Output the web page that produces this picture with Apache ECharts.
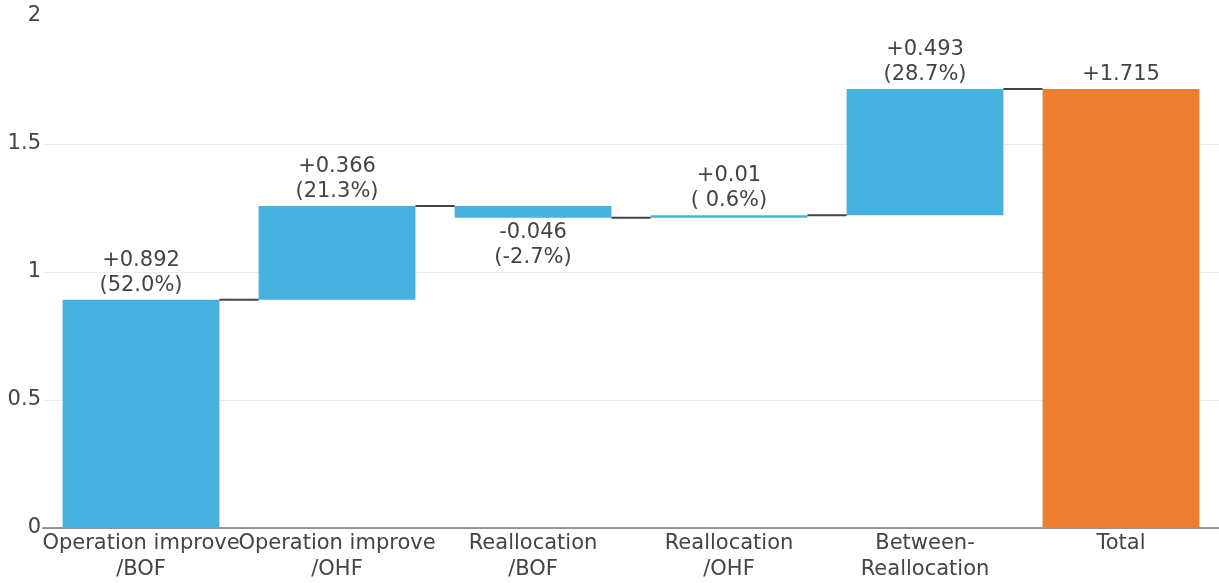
<!DOCTYPE html>
<html>
<head>
<meta charset="utf-8">
<script src="https://cdn.jsdelivr.net/npm/echarts@6/dist/echarts.min.js"></script>
<style>
  html, body { margin: 0; padding: 0; background: #fff; }
  #main { width: 1219px; height: 583px; }
</style>
</head>
<body>
<div id="main"></div>
<script>
// waterfall data
var categories = ['Operation improve\n/BOF', 'Operation improve\n/OHF', 'Reallocation\n/BOF',
                  'Reallocation\n/OHF', 'Between-\nReallocation', 'Total'];
var deltas = [0.892, 0.366, -0.046, 0.01, 0.493];
var shares = [52.0, 21.3, -2.7, 0.6, 28.7];
var total = 1.715;
var yTicks = [0, 0.5, 1, 1.5, 2];

var blue = '#47b2df', orange = '#ed7d31', ink = '#444';

// running sums -> invisible base + visible height
var base = [], height = [], ends = [];
var run = 0;
deltas.forEach(function (d, i) {
  var next = run + d;
  base.push(Math.min(run, next));
  height.push(Math.abs(d));
  ends.push(next);
  run = next;
});
base.push(0);
height.push(total);

function sign(v) { return (v >= 0 ? '+' : '') + v; }

var visible = height.map(function (h, i) {
  var isTotal = i === deltas.length;
  var txt = isTotal ? sign(total) : sign(deltas[i]) + '\n(' + shares[i].toFixed(1).padStart(4, ' ') + '%)';
  return {
    value: h,
    itemStyle: { color: isTotal ? orange : blue },
    label: {
      show: true,
      position: (!isTotal && deltas[i] < 0) ? 'bottom' : 'top',
      formatter: txt
    }
  };
});

var chart = echarts.init(document.getElementById('main'));
chart.setOption({
  animation: false,
  textStyle: { fontFamily: 'DejaVu Sans' },
  grid: { left: 43, width: 1178, top: 16, bottom: 44, containLabel: false },
  xAxis: {
    type: 'category',
    data: categories,
    axisLine: { lineStyle: { color: '#777', width: 1.5 } },
    axisTick: { show: false },
    axisLabel: { interval: 0, color: ink, fontSize: 21, lineHeight: 26, margin: 3 }
  },
  yAxis: {
    type: 'value',
    min: yTicks[0],
    max: yTicks[yTicks.length - 1],
    interval: 0.5,
    axisLine: { show: false },
    axisTick: { show: false },
    axisLabel: { color: ink, fontSize: 21, margin: 2 },
    splitLine: { showMaxLine: false, lineStyle: { color: '#ebebeb', width: 1 } }
  },
  series: [
    {
      type: 'bar',
      stack: 'wf',
      data: base,
      itemStyle: { color: 'transparent' },
      barCategoryGap: '20%',
      silent: true
    },
    {
      type: 'bar',
      stack: 'wf',
      data: visible,
      barCategoryGap: '20%',
      label: { color: ink, fontSize: 21, lineHeight: 25, distance: 2 }
    },
    {
      // connectors between bars at the running level
      type: 'custom',
      data: ends.map(function (v, i) { return [i, v]; }),
      renderItem: function (params, api) {
        var i = api.value(0), v = api.value(1);
        var bw = api.size([1, 0])[0] * 0.8;
        var p1 = api.coord([i, v]);
        var p2 = api.coord([i + 1, v]);
        return {
          type: 'line',
          shape: { x1: p1[0] + bw / 2, y1: p1[1], x2: p2[0] - bw / 2, y2: p2[1] },
          style: { stroke: ink, lineWidth: 2 }
        };
      },
      z: 5
    }
  ]
});
</script>
</body>
</html>
